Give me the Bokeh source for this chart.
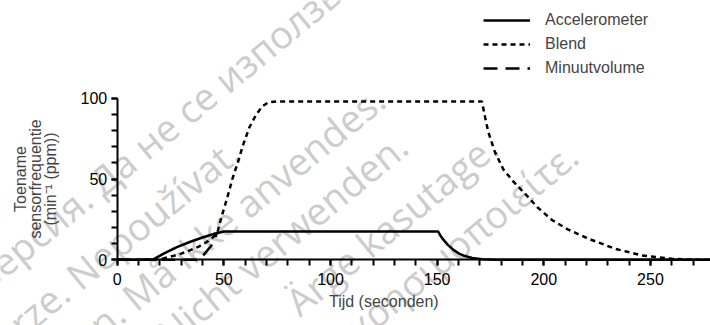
import math
from bokeh.plotting import figure
from bokeh.models import Range1d, FixedTicker, Label, Legend, LegendItem
from bokeh.embed import file_html
from bokeh.resources import INLINE

# ---- data ----
acc_t = [0, 16.5, 22, 28, 34, 40, 46, 50, 150.5, 151.5, 153, 155, 157.5, 160, 163, 166.5, 171, 178, 280]
acc_v = [0, 0, 4, 7.8, 11, 13.8, 16.3, 17.5, 17.5, 15, 12.3, 9.2, 6.3, 4.0, 2.3, 1.1, 0.3, 0, 0]

blend_t = [0, 17.5, 22, 26, 30, 34, 38, 42, 45, 47, 49, 51.5, 54, 56.5, 59, 62, 65, 68, 71, 75,
           171, 172.5, 174, 177, 181, 186, 191.5, 197, 204, 211, 221, 233.5, 246, 260, 270, 280]
blend_v = [0, 0, 1, 2.3, 3.8, 5.8, 8, 11, 14, 17, 27, 38, 50, 60, 71, 82, 89.5, 95, 97.5, 98,
           98, 88, 79, 67, 56, 48, 40.5, 32.5, 24.5, 19, 13, 6.8, 2.7, 0.6, 0, 0]

mv_t = [0, 38.5, 41, 44, 47]
mv_v = [0, 0, 3.8, 8.5, 17]

x_major = [0, 50, 100, 150, 200, 250]
x_minor = list(range(0, 280, 10))
y_major = [0, 50, 100]
y_minor = list(range(0, 110, 10))

series_names = ["Accelerometer", "Blend", "Minuutvolume"]
y_title_lines = ["Toename", "sensorfrequentie", "(min\u207b\u00b9 (ppm))"]
x_title = "Tijd (seconden)"

watermarks = [
    ("версия. Да не се използва.", -22, 263),
    ("verze. Nepoužívat.", -18, 338),
    ("version. Må ikke anvendes.", 11, 405),
    ("Version. Nicht verwenden.", 43, 470),
    ("Ärge kasutage.", 290, 545),
    ("χρησιμοποιείτε.", 350, 620),
]

# ---- geometry: frame covers the whole canvas, axes drawn at fixed locations ----
W, H = 710, 325
X0_PX, Y0_PX = 116.7, 259.3      # pixel position of (0, 0)
PX_X, PX_Y = 2.133, 1.616        # pixels per data unit
x_start, x_end = -X0_PX / PX_X, (W - X0_PX) / PX_X
y_start, y_end = -(H - Y0_PX) / PX_Y, Y0_PX / PX_Y

def to_data(px, py):
    return (px - X0_PX) / PX_X, (Y0_PX - py) / PX_Y

p = figure(width=W, height=H, output_backend="svg", toolbar_location=None,
           x_range=Range1d(x_start, x_end), y_range=Range1d(y_start, y_end),
           min_border=0)
p.outline_line_color = None
p.xgrid.visible = False
p.ygrid.visible = False
p.background_fill_color = "white"
p.border_fill_color = "white"

FONT = "Liberation Sans"

# watermark
ang = math.radians(39.5)
for txt, sx, c in watermarks:
    sy = c - math.tan(ang) * sx
    dx, dy = to_data(sx, sy)
    p.add_layout(Label(x=dx, y=dy, text=txt, angle=ang, text_color="#cccccc",
                       text_font="Open Sans", text_font_size="38px",
                       text_align="left", text_baseline="middle", level="underlay"))

r_mv = p.line(mv_t, mv_v, line_color="black", line_width=2.5, line_dash="14 8")
r_blend = p.line(blend_t, blend_v, line_color="black", line_width=2.5, line_dash="5 4")
r_acc = p.line(acc_t, acc_v, line_color="black", line_width=2.5)

for ax, major, minor, bnds in [(p.xaxis[0], x_major, x_minor, (0, 280)), (p.yaxis[0], y_major, y_minor, (0, 100))]:
    ax.fixed_location = 0
    ax.ticker = FixedTicker(ticks=major, minor_ticks=minor)
    ax.bounds = bnds
    ax.axis_line_width = 2
    ax.axis_line_color = "black"
    ax.major_tick_line_width = 2
    ax.minor_tick_line_width = 2
    ax.major_tick_in = 0
    ax.minor_tick_in = 0
    ax.major_tick_out = 6
    ax.minor_tick_out = 6
    ax.major_label_text_font = FONT
    ax.major_label_text_font_size = "16px"
    ax.major_label_text_color = "black"
p.xaxis[0].major_label_standoff = 7
p.yaxis[0].major_label_standoff = 4

# axis titles
_, ty = to_data(0, 301)
p.add_layout(Label(x=125, y=ty, text=x_title, text_font=FONT, text_font_size="16px",
                   text_align="center", text_baseline="middle"))
for i, line in enumerate(y_title_lines):
    lx, _ = to_data(20 + 15 * i, 0)
    p.add_layout(Label(x=lx, y=50, text=line, text_font=FONT, text_font_size="16px",
                       angle=math.pi / 2, text_align="center", text_baseline="middle"))

legend = Legend(items=[LegendItem(label=series_names[0], renderers=[r_acc]),
                       LegendItem(label=series_names[1], renderers=[r_blend]),
                       LegendItem(label=series_names[2], renderers=[r_mv])],
                location=(483, H - 78),
                padding=0, spacing=4, glyph_width=47, glyph_height=20, label_height=20,
                label_standoff=15, border_line_color=None, background_fill_alpha=0,
                label_text_font=FONT, label_text_font_size="16px", margin=0)
p.add_layout(legend, "center")

open("out.html", "w").write(file_html(p, INLINE))
